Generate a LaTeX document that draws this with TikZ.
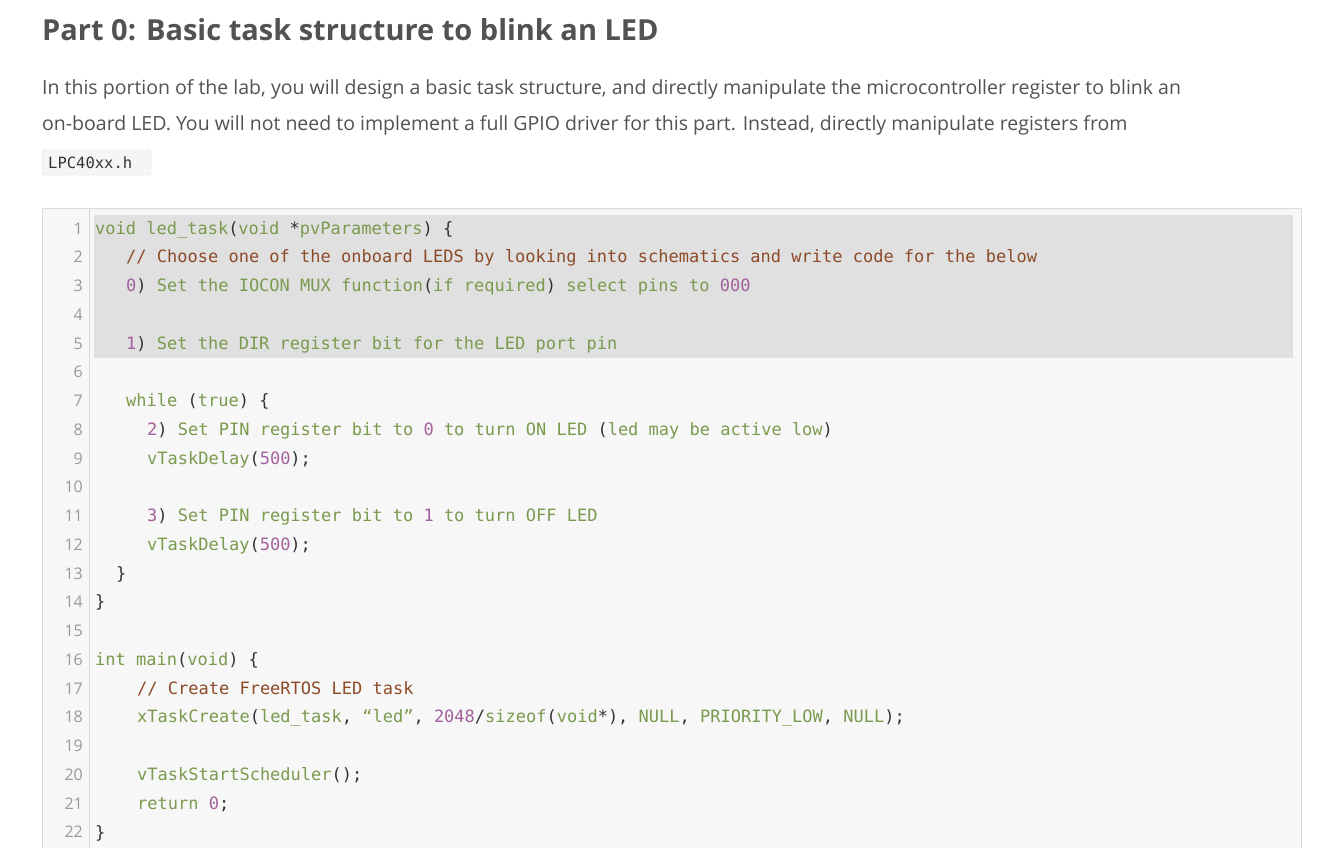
\documentclass[tikz,border=0pt]{standalone}
\usepackage{fontspec}
\setmainfont{Open Sans}
\setmonofont{DejaVu Sans Mono}
\usetikzlibrary{positioning}
\definecolor{cgreen}{HTML}{7A9A4E}
\definecolor{cpurple}{HTML}{A2619C}
\definecolor{cbrown}{HTML}{8C4A28}
\definecolor{cdark}{HTML}{333333}
\definecolor{cnum}{HTML}{999999}
\newcommand{\kg}[1]{\textcolor{cgreen}{#1}}
\newcommand{\kp}[1]{\textcolor{cpurple}{#1}}
\newcommand{\kc}[1]{\textcolor{cbrown}{#1}}
\tikzset{
  code/.style={anchor=base west, inner sep=0pt, text=cdark, font=\fontsize{17}{17}\selectfont\ttfamily},
  lnum/.style={anchor=base east, inner sep=0pt, text=cnum, font=\fontsize{16}{16}\selectfont},
  body/.style={anchor=base west, inner sep=0pt, text=cdark!85, font=\fontsize{19.5}{19.5}\selectfont},
}
\begin{document}
\begin{tikzpicture}[x=1pt,y=-1pt]
    \useasboundingbox (0,0) rectangle (1343,848);
    \fill[white] (0,0) rectangle (1343,848);
    % heading and text
    \node[body, font=\fontsize{29}{29}\selectfont\bfseries] (title) at (42,41) {Part 0: Basic task structure to blink an LED};
    \node[body] (p1) at (42,95) {In this portion of the lab, you will design a basic task structure, and directly manipulate the microcontroller register to blink an};
    \node[body] (p2) at (42,131) {on-board LED. You will not need to implement a full GPIO driver for this part. Instead, directly manipulate registers from};
    \draw[cdark!15, fill=cdark!5, rounded corners=3pt] (42,150) rectangle (151,175);
    \node[code, font=\fontsize{15.5}{15.5}\selectfont\ttfamily] (hdr) at (48,168) {LPC40xx.h};
    % code box
    \draw[cdark!18, fill=cdark!4] (42,208) rectangle (1301,860);
    \draw[cdark!18] (89,208) -- (89,860);
    \fill[cdark!15] (94,215) rectangle (1293,358);
    \foreach \k in {1,...,22} {
        \node[lnum] (n\k) at (83,{234+(\k-1)*28.76}) {\k};
    }
    \node[code] (l1) at (95,234) {\kg{void} \kg{led\_task}(\kg{void} *\kg{pvParameters}) \{};
    \node[code] (l2) at (126,262.8) {\kc{// Choose one of the onboard LEDS by looking into schematics and write code for the below}};
    \node[code] (l3) at (126,291.5) {\kp{0}) \kg{Set the IOCON MUX function}(\kg{if required}) \kg{select pins to} \kp{000}};
    \node[code] (l5) at (126,349) {\kp{1}) \kg{Set the DIR register bit for the LED port pin}};
    \node[code] (l7) at (126,406.6) {\kg{while} (\kg{true}) \{};
    \node[code] (l8) at (147,435.3) {\kp{2}) \kg{Set PIN register bit to} \kp{0} \kg{to turn ON LED} (\kg{led may be active low})};
    \node[code] (l9) at (147,464.1) {\kg{vTaskDelay}(\kp{500});};
    \node[code] (l11) at (147,521.6) {\kp{3}) \kg{Set PIN register bit to} \kp{1} \kg{to turn OFF LED}};
    \node[code] (l12) at (147,550.4) {\kg{vTaskDelay}(\kp{500});};
    \node[code] (l13) at (116,579.1) {\}};
    \node[code] (l14) at (95,607.9) {\}};
    \node[code] (l16) at (95,665.4) {\kg{int} \kg{main}(\kg{void}) \{};
    \node[code] (l17) at (137,694.2) {\kc{// Create FreeRTOS LED task}};
    \node[code] (l18) at (137,722.9) {\kg{xTaskCreate}(\kg{led\_task}, \kg{“led”}, \kp{2048}/\kg{sizeof}(\kg{void}*), \kg{NULL}, \kg{PRIORITY\_LOW}, \kg{NULL});};
    \node[code] (l20) at (137,780.4) {\kg{vTaskStartScheduler}();};
    \node[code] (l21) at (137,809.2) {\kg{return} \kp{0};};
    \node[code] (l22) at (95,838) {\}};
\end{tikzpicture}
\end{document}
